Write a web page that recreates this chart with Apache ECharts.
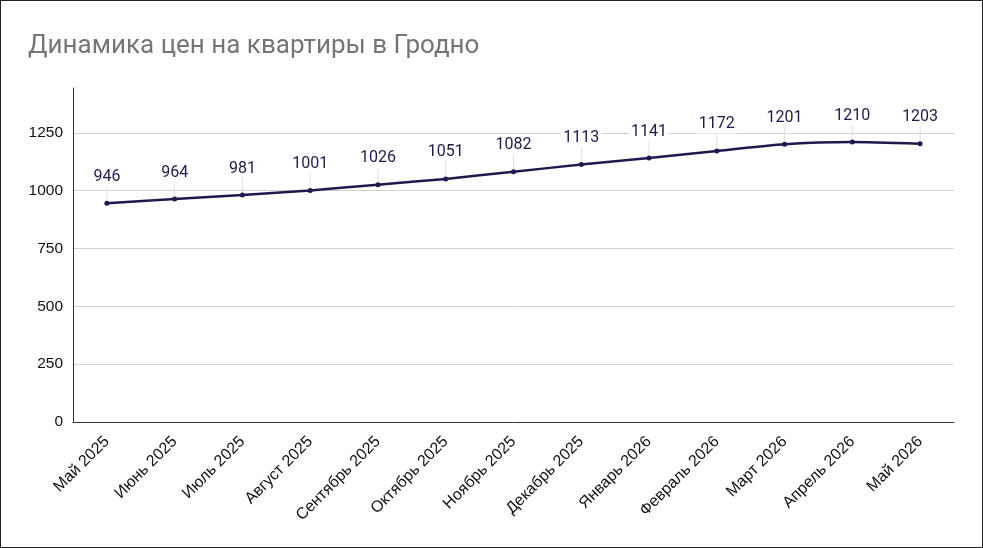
<!DOCTYPE html>
<html><head><meta charset="utf-8">
<script src="https://cdn.jsdelivr.net/npm/echarts@6/dist/echarts.min.js"></script>
<style>
html,body{margin:0;padding:0;background:#fff;}
#c{width:983px;height:548px;box-sizing:border-box;border:1px solid #222;}
</style></head>
<body><div id="c"></div>
<script>
const titleText = 'Динамика цен на квартиры в Гродно';
const months = ['Май 2025','Июнь 2025','Июль 2025','Август 2025','Сентябрь 2025','Октябрь 2025','Ноябрь 2025','Декабрь 2025','Январь 2026','Февраль 2026','Март 2026','Апрель 2026','Май 2026'];
const prices = [946, 964, 981, 1001, 1026, 1051, 1082, 1113, 1141, 1172, 1201, 1210, 1203];
const yTicks = [0, 250, 500, 750, 1000, 1250];

const chart = echarts.init(document.getElementById('c'), null, {renderer:'canvas'});
chart.setOption({
  animation:false,
  backgroundColor:'#fff',
  title:{text:titleText, left:22, top:27,
    textStyle:{fontFamily:'Roboto', fontSize:26, fontWeight:'normal', color:'#757575'}},
  grid:{left:72, right:28, top:87, bottom:125, containLabel:false},
  xAxis:{type:'category', data:months, boundaryGap:true,
    axisLine:{lineStyle:{color:'#333', width:1}},
    axisTick:{show:false},
    axisLabel:{rotate:45, color:'#111', fontFamily:"'Liberation Sans', Arial, sans-serif", fontSize:16, margin:17, interval:0}},
  yAxis:{type:'value', min:yTicks[0], max:1444, interval:yTicks[1]-yTicks[0],
    axisLine:{show:true, lineStyle:{color:'#333', width:1}},
    axisTick:{show:false},
    axisLabel:{color:'#111', fontFamily:"'Liberation Sans', Arial, sans-serif", fontSize:15.5, margin:10, showMaxLabel:false,
      formatter:v=> yTicks.includes(v) ? String(v) : ''},
    splitLine:{show:true, showMaxLine:false, lineStyle:{color:'#d0d0d0', width:1}}},
  series:[{type:'line', data:prices, smooth:0.2,
    lineStyle:{color:'#1e1a4d', width:2.5},
    itemStyle:{color:'#1e1a4d'},
    symbol:'circle', symbolSize:5,
    label:{show:true, position:'top', distance:4, color:'#1e1a4d', fontFamily:'Roboto', fontSize:16,
      backgroundColor:'#fff', padding:[1,2]},
    labelLayout:{dy:-11},
    labelLine:{show:true, lineStyle:{color:'#e0e0e0', width:1}}
  }]
});
</script></body></html>
